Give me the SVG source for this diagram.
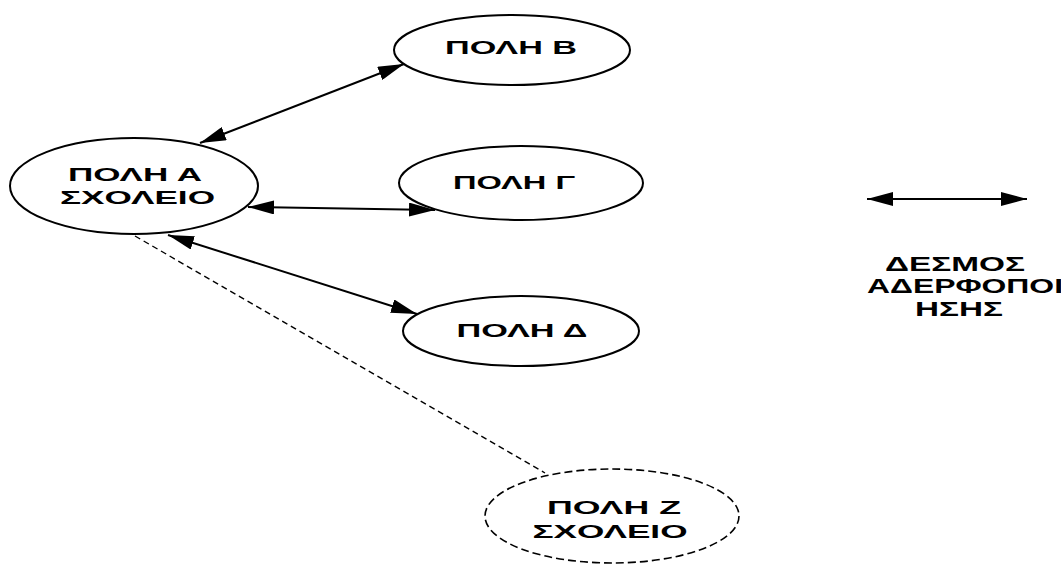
<svg xmlns="http://www.w3.org/2000/svg" width="1061" height="565" viewBox="0 0 1061 565">
<style>
.node{fill:#fff;stroke:#000;stroke-width:2}
.dash{fill:#fff;stroke:#000;stroke-width:1.6;stroke-dasharray:8 4}
.lbl{font-family:"Liberation Sans","DejaVu Sans",Arial,sans-serif;font-weight:bold;font-size:19px;fill:#000;text-anchor:middle}
.leg{font-size:21px}
.conn{stroke:#000;stroke-width:2;fill:none}
.dconn{stroke:#000;stroke-width:1.4;fill:none;stroke-dasharray:6 4}
</style>
<defs>
<marker id="ah" viewBox="0 0 26 14" refX="26" refY="7" markerWidth="26" markerHeight="14" markerUnits="userSpaceOnUse" orient="auto-start-reverse">
<path d="M0,0 L26,7 L0,14 z" fill="#000"/>
</marker>
</defs>
<rect width="1061" height="565" fill="#fff"/>
<g id="connectors">
<line class="conn" x1="200" y1="143" x2="404" y2="64" marker-start="url(#ah)" marker-end="url(#ah)"/>
<line class="conn" x1="248" y1="207" x2="435" y2="210" marker-start="url(#ah)" marker-end="url(#ah)"/>
<line class="conn" x1="168" y1="235" x2="417" y2="314" marker-start="url(#ah)" marker-end="url(#ah)"/>
<line class="dconn" x1="135" y1="236" x2="545" y2="473"/>
</g>
<g id="nodeA">
<ellipse class="node" cx="134" cy="186" rx="124" ry="48"/>
<text class="lbl" x="135" y="181" textLength="134" lengthAdjust="spacingAndGlyphs">ΠΟΛΗ Α</text>
<text class="lbl" x="137.5" y="204" textLength="155" lengthAdjust="spacingAndGlyphs">ΣΧΟΛΕΙΟ</text>
</g>
<g id="nodeB">
<ellipse class="node" cx="512" cy="50" rx="118" ry="35"/>
<text class="lbl" x="511" y="54" textLength="132" lengthAdjust="spacingAndGlyphs">ΠΟΛΗ Β</text>
</g>
<g id="nodeG">
<ellipse class="node" cx="521" cy="183" rx="122" ry="37"/>
<text class="lbl" x="514" y="189" textLength="122" lengthAdjust="spacingAndGlyphs">ΠΟΛΗ Γ</text>
</g>
<g id="nodeD">
<ellipse class="node" cx="521" cy="331" rx="118" ry="35"/>
<text class="lbl" x="522" y="337" textLength="131" lengthAdjust="spacingAndGlyphs">ΠΟΛΗ Δ</text>
</g>
<g id="nodeZ">
<ellipse class="dash" cx="612" cy="516" rx="127" ry="47"/>
<text class="lbl" x="614" y="514" textLength="134" lengthAdjust="spacingAndGlyphs">ΠΟΛΗ Ζ</text>
<text class="lbl" x="610" y="538" textLength="155" lengthAdjust="spacingAndGlyphs">ΣΧΟΛΕΙΟ</text>
</g>
<g id="legend">
<line class="conn" x1="867" y1="199" x2="1027" y2="199" marker-start="url(#ah)" marker-end="url(#ah)"/>
<text class="lbl leg" x="955" y="271" textLength="140" lengthAdjust="spacingAndGlyphs">ΔΕΣΜΟΣ</text>
<text class="lbl leg" x="867" y="293" textLength="196" lengthAdjust="spacingAndGlyphs" style="text-anchor:start">ΑΔΕΡΦΟΠΟΙ</text>
<text class="lbl leg" x="959" y="316" textLength="88" lengthAdjust="spacingAndGlyphs">ΗΣΗΣ</text>
</g>
</svg>
